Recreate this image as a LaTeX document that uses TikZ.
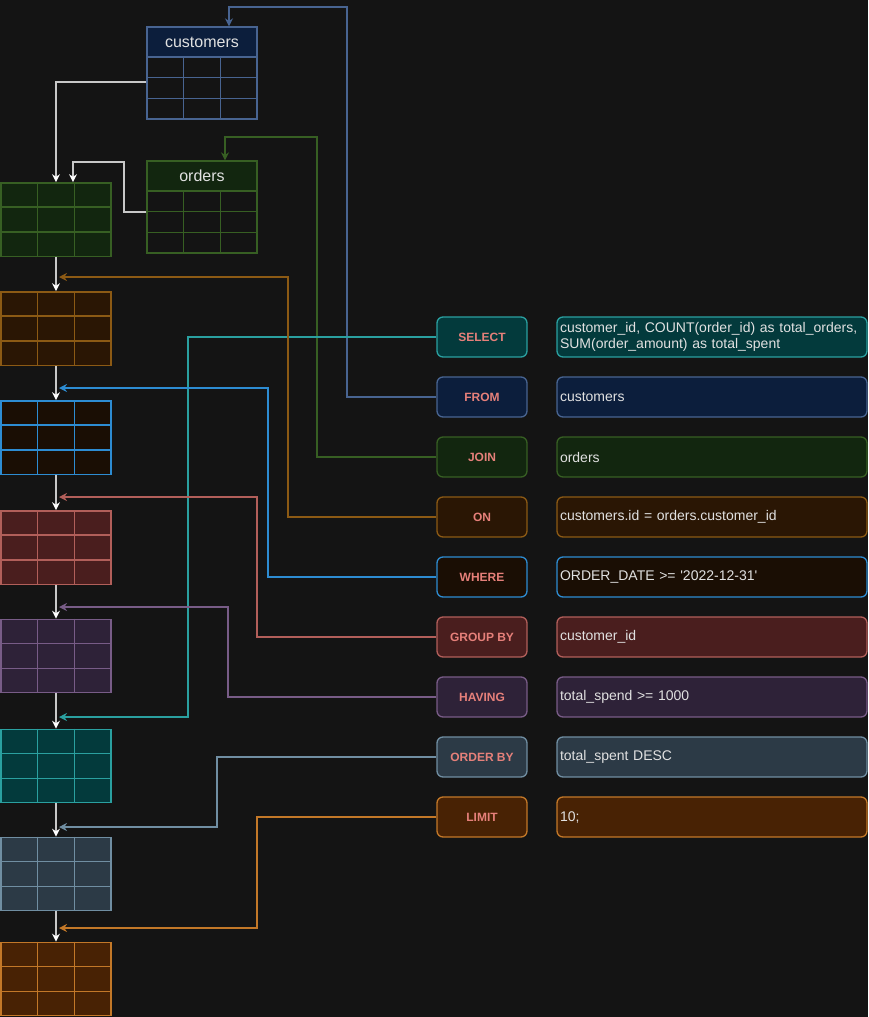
\documentclass[tikz,border=0pt]{standalone}
\usepackage{fontspec}
\setmainfont{Liberation Sans}
\usepackage{xcolor}
\usetikzlibrary{arrows.meta}
\usetikzlibrary{calc}

\definecolor{canvas}{RGB}{20,20,20}
\definecolor{flowLn}{RGB}{200,200,200}
\definecolor{kwText}{RGB}{230,128,122}
\definecolor{valText}{RGB}{225,225,225}
\definecolor{selLn}{RGB}{42,160,160}   \definecolor{selFl}{RGB}{3,58,60}
\definecolor{fromLn}{RGB}{72,100,145}  \definecolor{fromFl}{RGB}{12,30,60}
\definecolor{joinLn}{RGB}{55,95,35}    \definecolor{joinFl}{RGB}{18,38,15}
\definecolor{onLn}{RGB}{140,90,20}     \definecolor{onFl}{RGB}{42,22,4}
\definecolor{whereLn}{RGB}{45,140,210} \definecolor{whereFl}{RGB}{26,14,4}
\definecolor{groupLn}{RGB}{178,95,90}  \definecolor{groupFl}{RGB}{74,30,30}
\definecolor{havLn}{RGB}{120,92,135}   \definecolor{havFl}{RGB}{46,34,56}
\definecolor{ordLn}{RGB}{112,142,162}  \definecolor{ordFl}{RGB}{44,58,70}
\definecolor{limLn}{RGB}{195,120,40}   \definecolor{limFl}{RGB}{72,34,4}

% 3x3 cell lines inside a table node
\newcommand{\tabgrid}[2]{%
  \foreach \f in {1,2}{%
    \draw[#2, line width=1pt] ($(#1.north west)!\f/3!(#1.north east)$) -- ($(#1.south west)!\f/3!(#1.south east)$);
    \draw[#2, line width=1pt] ($(#1.north west)!\f/3!(#1.south west)$) -- ($(#1.north east)!\f/3!(#1.south east)$);
  }}

\begin{document}
\begin{tikzpicture}[x=0.75pt,y=0.75pt,yscale=-1,xscale=1,
  tbl/.style 2 args={draw=#1, fill=#2, line width=1pt, inner sep=0pt, minimum width=82.5pt, minimum height=55pt},
  thead/.style 2 args={draw=#1, fill=#2, line width=1pt, inner sep=0pt, minimum width=82.5pt, minimum height=22.5pt, text=valText, font=\fontsize{12}{14}\selectfont},
  tbody/.style={draw=#1, line width=1pt, inner sep=0pt, minimum width=82.5pt, minimum height=46.5pt},
  kw/.style 2 args={draw=#1, fill=#2, rounded corners=4.5pt, line width=1pt, minimum width=67.5pt, minimum height=30pt, text=kwText, font=\fontsize{9}{11}\selectfont\bfseries},
  val/.style 2 args={draw=#1, fill=#2, rounded corners=4.5pt, line width=1pt, minimum width=232.5pt, minimum height=30pt, text width=228pt, inner xsep=1.5pt, align=left, text=valText, font=\fontsize{10.5}{12}\selectfont},
  flow/.style={draw=flowLn, line width=1pt, -{Stealth[length=6pt,width=6pt,inset=2pt,color=white]}},
  link/.style={draw=#1, line width=1pt, -{Stealth[length=6pt,width=6pt,inset=2pt]}}]

\fill[canvas] (0,0) rectangle (868,1017);
\useasboundingbox (0,0) rectangle (868,1017);

%Shape: Table customers
\node [thead={fromLn}{fromFl}] (custHead) at (202,42) {customers};
\node [tbody=fromLn] (custBody) at (202,88) {};
\tabgrid{custBody}{fromLn}
%Shape: Table orders
\node [thead={joinLn}{joinFl}] (ordHead) at (202,176) {orders};
\node [tbody=joinLn] (ordBody) at (202,222) {};
\tabgrid{ordBody}{joinLn}

%Shape: Result tables
\node [tbl={joinLn}{joinFl}] (t1) at (56,219.5) {};
\tabgrid{t1}{joinLn}
\node [tbl={onLn}{onFl}] (t2) at (56,328.5) {};
\tabgrid{t2}{onLn}
\node [tbl={whereLn}{whereFl}] (t3) at (56,437.5) {};
\tabgrid{t3}{whereLn}
\node [tbl={groupLn}{groupFl}] (t4) at (56,547.5) {};
\tabgrid{t4}{groupLn}
\node [tbl={havLn}{havFl}] (t5) at (56,656) {};
\tabgrid{t5}{havLn}
\node [tbl={selLn}{selFl}] (t6) at (56,766) {};
\tabgrid{t6}{selLn}
\node [tbl={ordLn}{ordFl}] (t7) at (56,874) {};
\tabgrid{t7}{ordLn}
\node [tbl={limLn}{limFl}] (t8) at (56,979) {};
\tabgrid{t8}{limLn}

% Text Node
\node [kw={selLn}{selFl}] (kSelect) at (482,337) {SELECT};
\node [val={selLn}{selFl}] (vSelect) at (712,337) {customer\_id, COUNT(order\_id) as total\_orders,\\SUM(order\_amount) as total\_spent};
% Text Node
\node [kw={fromLn}{fromFl}] (kFrom) at (482,397) {FROM};
\node [val={fromLn}{fromFl}] (vFrom) at (712,397) {customers};
% Text Node
\node [kw={joinLn}{joinFl}] (kJoin) at (482,457) {JOIN};
\node [val={joinLn}{joinFl}] (vJoin) at (712,457) {orders};
% Text Node
\node [kw={onLn}{onFl}] (kOn) at (482,517) {ON};
\node [val={onLn}{onFl}] (vOn) at (712,517) {customers.id = orders.customer\_id};
% Text Node
\node [kw={whereLn}{whereFl}] (kWhere) at (482,577) {WHERE};
\node [val={whereLn}{whereFl}] (vWhere) at (712,577) {ORDER\_DATE >= \textquotesingle 2022-12-31\textquotesingle};
% Text Node
\node [kw={groupLn}{groupFl}] (kGroup) at (482,637) {GROUP BY};
\node [val={groupLn}{groupFl}] (vGroup) at (712,637) {customer\_id};
% Text Node
\node [kw={havLn}{havFl}] (kHaving) at (482,697) {HAVING};
\node [val={havLn}{havFl}] (vHaving) at (712,697) {total\_spend >= 1000};
% Text Node
\node [kw={ordLn}{ordFl}] (kOrder) at (482,757) {ORDER BY};
\node [val={ordLn}{ordFl}] (vOrder) at (712,757) {total\_spent DESC};
% Text Node
\node [kw={limLn}{limFl}] (kLimit) at (482,817) {LIMIT};
\node [val={limLn}{limFl}] (vLimit) at (712,817) {10;};

% entry points beside the flow line
\coordinate (in2) at (59,277);
\coordinate (in3) at (59,388);
\coordinate (in4) at (59,497);
\coordinate (in5) at (59,607);
\coordinate (in6) at (59,717);
\coordinate (in7) at (59,827);
\coordinate (in8) at (59,928);

%Straight Lines: flow between tables
\draw [flow] ([yshift=-4.5pt]custBody.west) -| (t1.north);
\draw [flow] ([yshift=-7.5pt]ordBody.west) -| (124,162) -| ([xshift=12.75pt]t1.north);
\draw [flow] (t1.south) -- (t2.north);
\draw [flow] (t2.south) -- (t3.north);
\draw [flow] (t3.south) -- (t4.north);
\draw [flow] (t4.south) -- (t5.north);
\draw [flow] (t5.south) -- (t6.north);
\draw [flow] (t6.south) -- (t7.north);
\draw [flow] (t7.south) -- (t8.north);

%Straight Lines: clauses to tables
\draw [link=fromLn] (kFrom.west) -| (347,7) -| ([xshift=20.25pt]custHead.north);
\draw [link=joinLn] (kJoin.west) -| (317,137) -| ([xshift=17.25pt]ordHead.north);
\draw [link=selLn] (kSelect.west) -| (188,717) -- (in6);
\draw [link=onLn] (kOn.west) -| (288,277) -- (in2);
\draw [link=whereLn] (kWhere.west) -| (268,388) -- (in3);
\draw [link=groupLn] (kGroup.west) -| (257,497) -- (in4);
\draw [link=havLn] (kHaving.west) -| (228,607) -- (in5);
\draw [link=ordLn] (kOrder.west) -| (217,827) -- (in7);
\draw [link=limLn] (kLimit.west) -| (257,928) -- (in8);

\end{tikzpicture}
\end{document}
